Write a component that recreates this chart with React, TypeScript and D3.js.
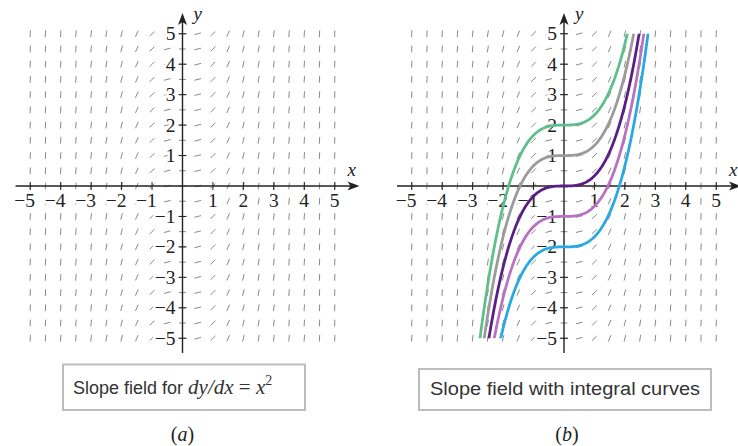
import { useEffect, useRef } from 'react';
import * as d3 from 'd3';

// slope field for dy/dx = x^2, integral curves y = x^3/3 + C
const gridValues = d3.range(-5, 5.001, 0.5);
const tickValues = [-5, -4, -3, -2, -1, 1, 2, 3, 4, 5];
const curveConstants = [2, 1, 0, -1, -2];
const curveColors = ['#5fbf8c', '#9b9b9b', '#5a1f86', '#b872c2', '#2aa9e0'];
const captions = ['Slope field for ', 'Slope field with integral curves'];
const panelLabels = ['a', 'b'];

const slope = (x: number) => x * x;

function App() {
  const ref = useRef<SVGSVGElement>(null);

  useEffect(() => {
    draw();
    // eslint-disable-next-line
  }, []);

  function drawPanel(svg: any, cx: number, withCurves: boolean, idx: number) {
    const unit = 30.45;
    const cy = 186;
    const xScale = d3.scaleLinear().domain([-5, 5]).range([cx - 5 * unit, cx + 5 * unit]);
    const yScale = d3.scaleLinear().domain([-5, 5]).range([cy + 5 * unit, cy - 5 * unit]);
    const g = svg.append('g');

    // slope marks
    const half = 3.4;
    const marks: { x: number; y: number }[] = [];
    gridValues.forEach(x => gridValues.forEach(y => marks.push({ x, y })));
    g.append('g')
      .selectAll('line')
      .data(marks)
      .join('line')
      .attr('x1', (d: any) => xScale(d.x) - half * Math.cos(Math.atan(slope(d.x))))
      .attr('x2', (d: any) => xScale(d.x) + half * Math.cos(Math.atan(slope(d.x))))
      .attr('y1', (d: any) => yScale(d.y) + half * Math.sin(Math.atan(slope(d.x))))
      .attr('y2', (d: any) => yScale(d.y) - half * Math.sin(Math.atan(slope(d.x))))
      .attr('stroke', '#8a8a8a')
      .attr('stroke-width', 1);

    // axes
    const axisColor = '#222';
    const xLeft = cx - 167;
    const xRight = cx + 177;
    const yBottom = 353;
    const yTop = 13;
    g.append('line').attr('x1', xLeft).attr('x2', xRight - 8).attr('y1', cy).attr('y2', cy)
      .attr('stroke', axisColor).attr('stroke-width', 1.4);
    g.append('path').attr('d', `M${xRight},${cy} L${xRight - 12},${cy - 4.5} L${xRight - 9},${cy} L${xRight - 12},${cy + 4.5} Z`)
      .attr('fill', axisColor);
    g.append('line').attr('x1', cx).attr('x2', cx).attr('y1', yBottom).attr('y2', yTop + 8)
      .attr('stroke', axisColor).attr('stroke-width', 1.4);
    g.append('path').attr('d', `M${cx},${yTop} L${cx - 4.5},${yTop + 12} L${cx},${yTop + 9} L${cx + 4.5},${yTop + 12} Z`)
      .attr('fill', axisColor);

    // ticks
    g.append('g').selectAll('line').data(tickValues).join('line')
      .attr('x1', (d: number) => xScale(d)).attr('x2', (d: number) => xScale(d))
      .attr('y1', cy - 4).attr('y2', cy + 4)
      .attr('stroke', axisColor).attr('stroke-width', 1);
    g.append('g').selectAll('line').data(tickValues).join('line')
      .attr('y1', (d: number) => yScale(d)).attr('y2', (d: number) => yScale(d))
      .attr('x1', cx - 4).attr('x2', cx + 4)
      .attr('stroke', axisColor).attr('stroke-width', 1);

    const labelFont = '"Liberation Serif", "Times New Roman", serif';
    const fmt = (d: number) => (d < 0 ? '\u2212' + Math.abs(d) : String(d));
    g.append('g').selectAll('text').data(tickValues).join('text')
      .attr('x', (d: number) => xScale(d) + 4.8)
      .attr('y', cy + 21)
      .attr('text-anchor', 'end')
      .attr('font-family', labelFont).attr('font-size', 19.5).attr('fill', '#222')
      .attr('stroke', '#fff').attr('stroke-width', 5).attr('paint-order', 'stroke')
      .text(fmt);
    g.append('g').selectAll('text').data(tickValues).join('text')
      .attr('x', cx - 7)
      .attr('y', (d: number) => yScale(d) + 6.5)
      .attr('text-anchor', 'end')
      .attr('font-family', labelFont).attr('font-size', 19.5).attr('fill', '#222')
      .attr('stroke', '#fff').attr('stroke-width', 5).attr('paint-order', 'stroke')
      .text(fmt);

    g.append('text').attr('x', xRight - 12).attr('y', cy - 10)
      .attr('font-family', labelFont).attr('font-style', 'italic').attr('font-size', 19).attr('fill', '#222')
      .text('x');
    g.append('text').attr('x', cx + 11).attr('y', 20)
      .attr('font-family', labelFont).attr('font-style', 'italic').attr('font-size', 19).attr('fill', '#222')
      .text('y');

    if (withCurves) {
      const clipId = 'clip-b';
      svg.append('defs').append('clipPath').attr('id', clipId)
        .append('rect')
        .attr('x', xScale(-5) - 20).attr('width', 10 * unit + 40)
        .attr('y', yScale(5)).attr('height', yScale(-5) - yScale(5));
      const xs = d3.range(-3, 3.0001, 0.02);
      const curves = g.append('g').attr('clip-path', `url(#${clipId})`);
      curveConstants.forEach((c, i) => {
        const gen = d3.line<number>()
          .x(d => xScale(d))
          .y(d => yScale(d * d * d / 3 + c));
        const pts = xs.filter(x => {
          const y = x * x * x / 3 + c;
          return y > -5.6 && y < 5.6;
        });
        curves.append('path')
          .datum(pts)
          .attr('d', gen)
          .attr('fill', 'none')
          .attr('stroke', curveColors[i])
          .attr('stroke-width', 2.8);
      });
    }

    // caption box
    const sansFont = '"Liberation Sans", Arial, sans-serif';
    if (idx === 0) {
      g.append('rect').attr('x', 63).attr('y', 364.5).attr('width', 242).attr('height', 45.5)
        .attr('fill', '#fff').attr('stroke', '#bdbdbd').attr('stroke-width', 2);
      const t = g.append('text').attr('x', 73).attr('y', 394).attr('font-size', 18).attr('fill', '#333');
      t.append('tspan').attr('font-family', sansFont).text(captions[0]);
      t.append('tspan').attr('font-family', labelFont).attr('font-style', 'italic').attr('font-size', 21).text('dy/dx');
      t.append('tspan').attr('font-family', labelFont).attr('font-size', 21).text(' = ');
      t.append('tspan').attr('font-family', labelFont).attr('font-style', 'italic').attr('font-size', 21).text('x');
      t.append('tspan').attr('font-family', labelFont).attr('font-size', 14).attr('dy', -9).text('2');
    } else {
      g.append('rect').attr('x', 419).attr('y', 369).attr('width', 292).attr('height', 41)
        .attr('fill', '#fff').attr('stroke', '#bdbdbd').attr('stroke-width', 2);
      g.append('text').attr('x', 430).attr('y', 395).attr('font-size', 18).attr('fill', '#333')
        .attr('font-family', sansFont).attr('textLength', 270).attr('lengthAdjust', 'spacingAndGlyphs')
        .text(captions[1]);
    }

    const pl = g.append('text').attr('x', cx + (idx === 0 ? 0 : 3)).attr('y', 441).attr('text-anchor', 'middle')
      .attr('font-family', labelFont).attr('font-size', 20).attr('fill', '#222');
    pl.append('tspan').text('(');
    pl.append('tspan').attr('font-style', 'italic').text(panelLabels[idx]);
    pl.append('tspan').text(')');
  }

  function draw() {
    const svg = d3.select(ref.current);
    svg.selectAll('*').remove();
    drawPanel(svg, 182.5, false, 0);
    drawPanel(svg, 564, true, 1);
  }

  return (
    <div>
      <svg ref={ref} width={738} height={446}
        style={{ position: 'absolute', left: 0, top: 0, background: '#fff' }} />
    </div>
  );
}

export default App;
